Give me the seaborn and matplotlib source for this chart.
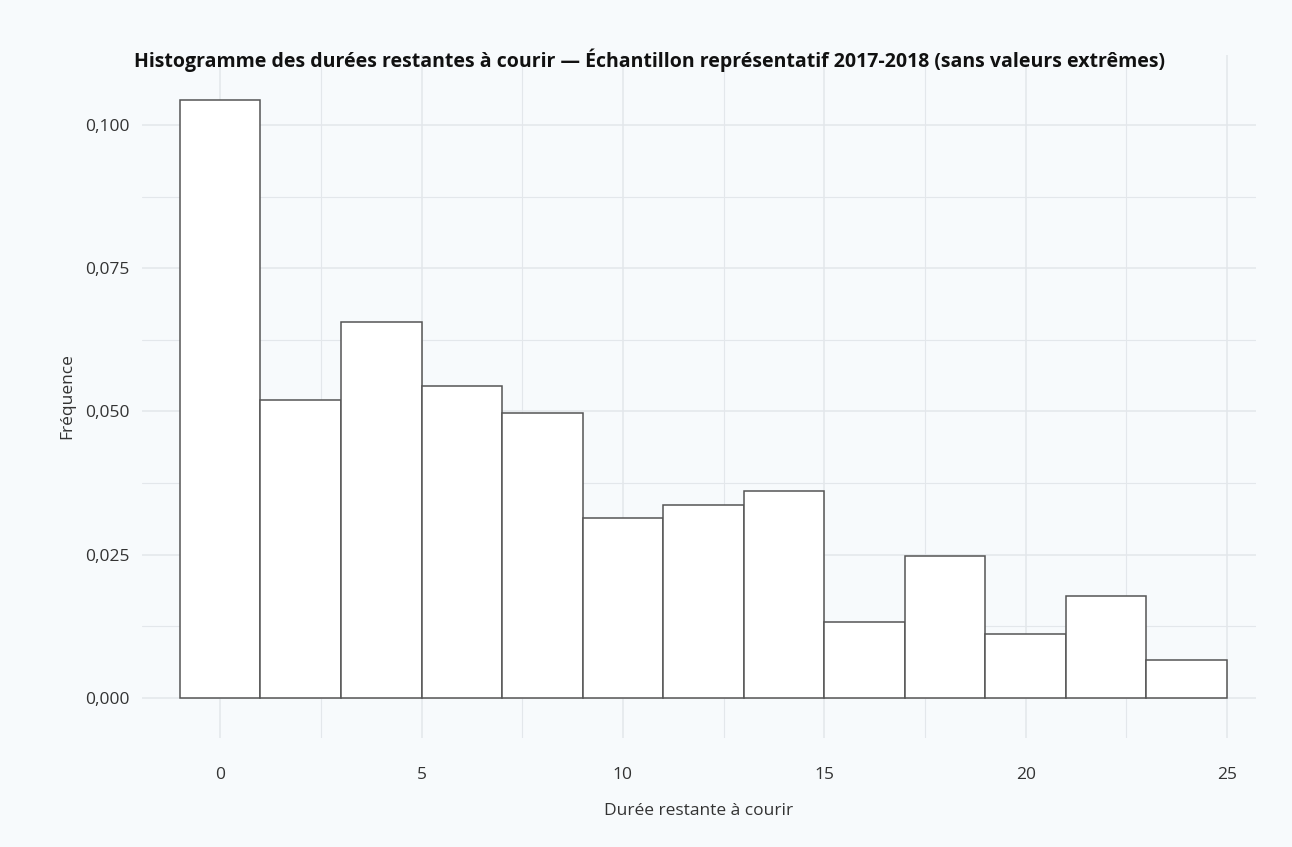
import numpy as np
import matplotlib
matplotlib.use("Agg")
import matplotlib.pyplot as plt
import seaborn as sns
from matplotlib.ticker import FuncFormatter, MultipleLocator

# Histogram bins (width 2) and density
bin_edges = [-1, 1, 3, 5, 7, 9, 11, 13, 15, 17, 19, 21, 23, 25]
bin_centers = [0, 2, 4, 6, 8, 10, 12, 14, 16, 18, 20, 22, 24]
frequence = [0.1044, 0.0520, 0.0656, 0.0545, 0.0497, 0.0314, 0.0337,
             0.0361, 0.0133, 0.0248, 0.0112, 0.0178, 0.0066]

title = "Histogramme des durées restantes à courir — Échantillon représentatif 2017-2018 (sans valeurs extrêmes)"
x_label = "Durée restante à courir"
y_label = "Fréquence"

bg = "#f7fafc"
grid_col = "#e3e7eb"
text_col = "#333333"

sns.set_theme(style="white")
plt.rcParams['font.family'] = ['Open Sans', 'DejaVu Sans']

fig = plt.figure(figsize=(12.92, 8.47), dpi=100, facecolor=bg)
ax = fig.add_axes([142 / 1292, 1 - 738 / 847, (1256 - 142) / 1292, (738 - 55) / 847])
ax.set_facecolor(bg)

sns.histplot(x=bin_centers, weights=frequence, bins=bin_edges, stat="count",
             color="white", edgecolor="#555555", linewidth=1.1, alpha=1, ax=ax)

ax.xaxis.set_major_locator(MultipleLocator(5))
ax.xaxis.set_minor_locator(MultipleLocator(2.5))
ax.yaxis.set_major_locator(MultipleLocator(0.025))
ax.yaxis.set_minor_locator(MultipleLocator(0.0125))
ax.yaxis.set_major_formatter(FuncFormatter(lambda v, p: f"{v:.3f}".replace(".", ",")))
ax.set_xlim(-1.94, 25.72)
ax.set_ylim(-0.007, 0.1122)

ax.grid(which="major", color=grid_col, linewidth=1.1)
ax.grid(which="minor", color=grid_col, linewidth=0.8)
ax.set_axisbelow(True)
for s in ax.spines.values():
    s.set_visible(False)
ax.tick_params(which="both", length=0, labelsize=12.5, labelcolor=text_col)
ax.tick_params(axis="x", pad=21)
ax.tick_params(axis="y", pad=9)

ax.set_xlabel(x_label, fontsize=12.5, color=text_col, labelpad=14)
ax.set_ylabel(y_label, fontsize=12.5, color=text_col, labelpad=7)
fig.text(0.503, 1 - 60 / 847, title, ha="center", va="center",
         fontsize=14, fontweight="bold", color="#111111")

fig.savefig("out.png", dpi=100, facecolor=bg)
